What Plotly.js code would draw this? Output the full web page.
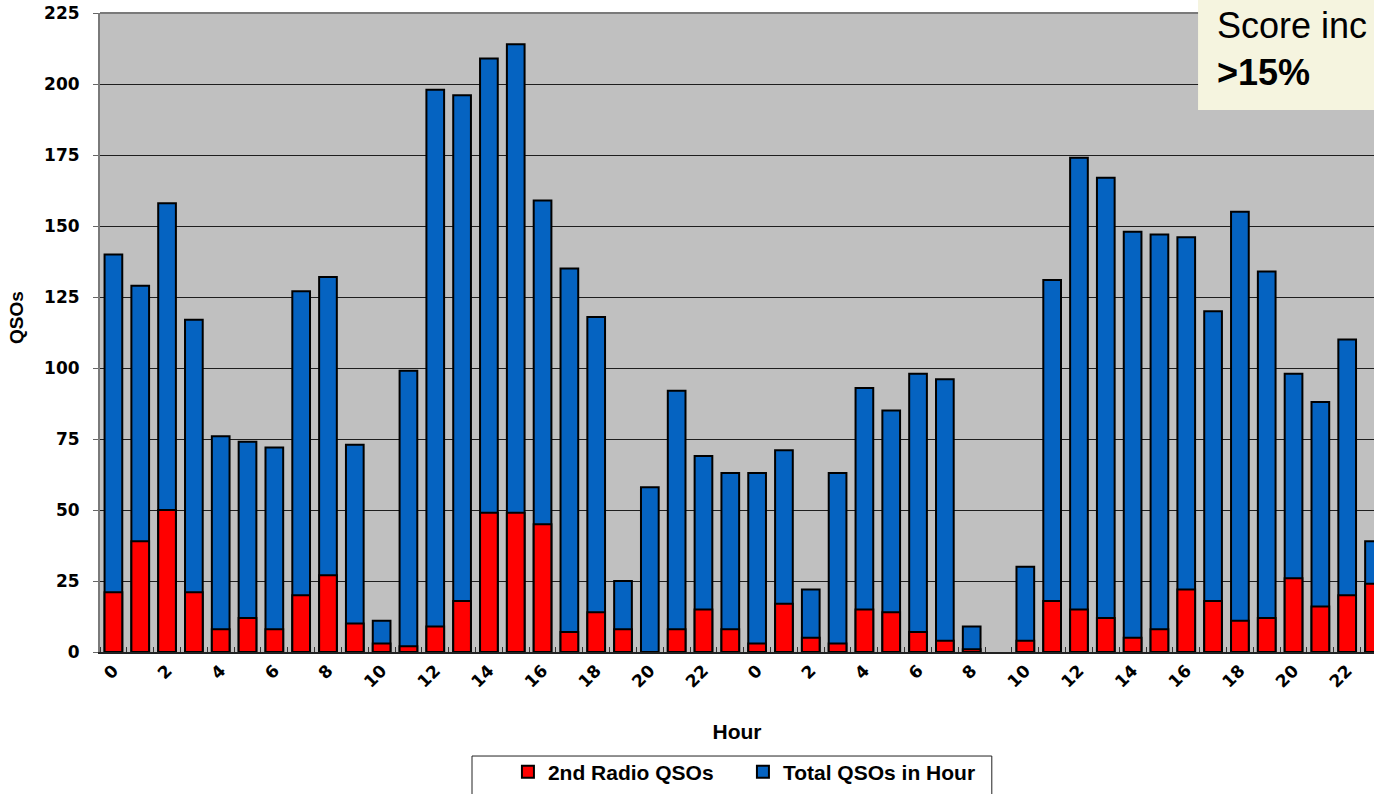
<!DOCTYPE html>
<html>
<head>
<meta charset="utf-8">
<script src="https://cdn.plot.ly/plotly-3.0.1.min.js"></script>
<style>html,body{margin:0;padding:0;background:#fff;}#chart{width:1374px;height:794px;}</style>
</head>
<body>
<div id="chart"></div>
<script>
// Hour of contest (two days, 48 hours)
const hours = [0,1,2,3,4,5,6,7,8,9,10,11,12,13,14,15,16,17,18,19,20,21,22,23,
               0,1,2,3,4,5,6,7,8,9,10,11,12,13,14,15,16,17,18,19,20,21,22,23];
// Total QSOs in each hour
const totalQSOs = [140,129,158,117,76,74,72,127,132,73,11,99,198,196,209,214,159,135,118,25,58,92,69,63,
                   63,71,22,63,93,85,98,96,9,0,30,131,174,167,148,147,146,120,155,134,98,88,110,39];
// QSOs made on the 2nd radio in each hour
const secondRadioQSOs = [21,39,50,21,8,12,8,20,27,10,3,2,9,18,49,49,45,7,14,8,0,8,15,8,
                         3,17,5,3,15,14,7,4,1,0,4,18,15,12,5,8,22,18,11,12,26,16,20,24];
const seriesNames = ['Total QSOs in Hour', '2nd Radio QSOs'];
const yTicks = [0,25,50,75,100,125,150,175,200,225];

const xPos = hours.map((h, i) => i);
const tickIdx = xPos.filter(i => i % 2 === 0);
const tickTxt = tickIdx.map(i => String(hours[i]));
const borderFor = vals => vals.map(v => (v > 0 ? 2 : 0));

const tickFont = {family: 'DejaVu Sans', size: 17, color: '#000', weight: 'bold'};
const boldArial = {family: 'Liberation Sans, Arial', color: '#000', weight: 'bold'};

const traces = [
  {type: 'bar', name: seriesNames[0], x: xPos, y: totalQSOs, width: 0.66,
   marker: {color: '#0563C1', line: {color: '#000', width: borderFor(totalQSOs)}}, hoverinfo: 'x+y'},
  {type: 'bar', name: seriesNames[1], x: xPos, y: secondRadioQSOs, width: 0.66,
   marker: {color: '#FF0000', line: {color: '#000', width: borderFor(secondRadioQSOs)}}, hoverinfo: 'x+y'}
];

const layout = {
  width: 1374, height: 794,
  margin: {l: 100, r: 0, t: 13, b: 142, pad: 0},
  paper_bgcolor: '#ffffff',
  plot_bgcolor: '#C0C0C0',
  barmode: 'overlay',
  showlegend: true,
  legend: {orientation: 'h', traceorder: 'reversed', x: 0.3202, xanchor: 'left', y: -0.156, yanchor: 'top',
           bgcolor: 'rgba(0,0,0,0)', borderwidth: 0, entrywidth: 190,
           font: Object.assign({size: 21}, boldArial)},
  xaxis: {
    range: [-0.5, 47.0], tickmode: 'array', tickvals: tickIdx, ticktext: tickTxt, automargin: false,
    tickangle: -45, tickfont: tickFont, ticks: '', showgrid: false, zeroline: false,
    showline: true, linecolor: '#222', linewidth: 2,
    minor: {tickmode: 'linear', tick0: 0.5, dtick: 1, ticks: 'inside', ticklen: 5, tickwidth: 1, tickcolor: '#333', showgrid: false},
    title: {text: 'Hour', font: Object.assign({size: 21}, boldArial), standoff: 34},
    fixedrange: true
  },
  yaxis: {
    range: [0, 225], tickmode: 'array', tickvals: yTicks, ticks: 'outside', ticklen: 5, tickwidth: 1, tickcolor: '#666',
    tickfont: tickFont, ticklabelstandoff: 10, automargin: false,
    showgrid: true, gridcolor: '#1e1e1e', gridwidth: 1, zeroline: false,
    showline: true, linecolor: '#7a7a7a', linewidth: 2,
    fixedrange: true
  },
  shapes: [
    {type: 'line', xref: 'paper', yref: 'paper', x0: 0, x1: 1, y0: 1, y1: 1, line: {color: '#7a7a7a', width: 2}},
    {type: 'rect', xref: 'paper', yref: 'paper', x0: 0.8619, x1: 1.02, y0: 0.8482, y1: 1.03,
     fillcolor: '#F5F4DF', line: {width: 0}, layer: 'above'},
    {type: 'rect', xref: 'paper', yref: 'paper', x0: 0.292, x1: 0.70, y0: -0.232, y1: -0.1628,
     fillcolor: 'rgba(0,0,0,0)', line: {color: '#222', width: 1}, layer: 'above'}
  ],
  annotations: [
    {xref: 'paper', yref: 'paper', x: -0.0651, y: 0.5227, xanchor: 'center', yanchor: 'middle',
     textangle: -90, showarrow: false, text: 'QSOs', font: Object.assign({size: 19}, boldArial)},
    {xref: 'paper', yref: 'paper', x: 0.875, y: 0.944, xanchor: 'left', yanchor: 'middle', align: 'left',
     showarrow: false, text: 'Score inc<br><b>&gt;15%</b>',
     font: {family: 'Liberation Sans, Arial', size: 36, color: '#000'}}
  ]
};

Plotly.newPlot('chart', traces, layout, {displayModeBar: false, staticPlot: false, responsive: false});
</script>
</body>
</html>
